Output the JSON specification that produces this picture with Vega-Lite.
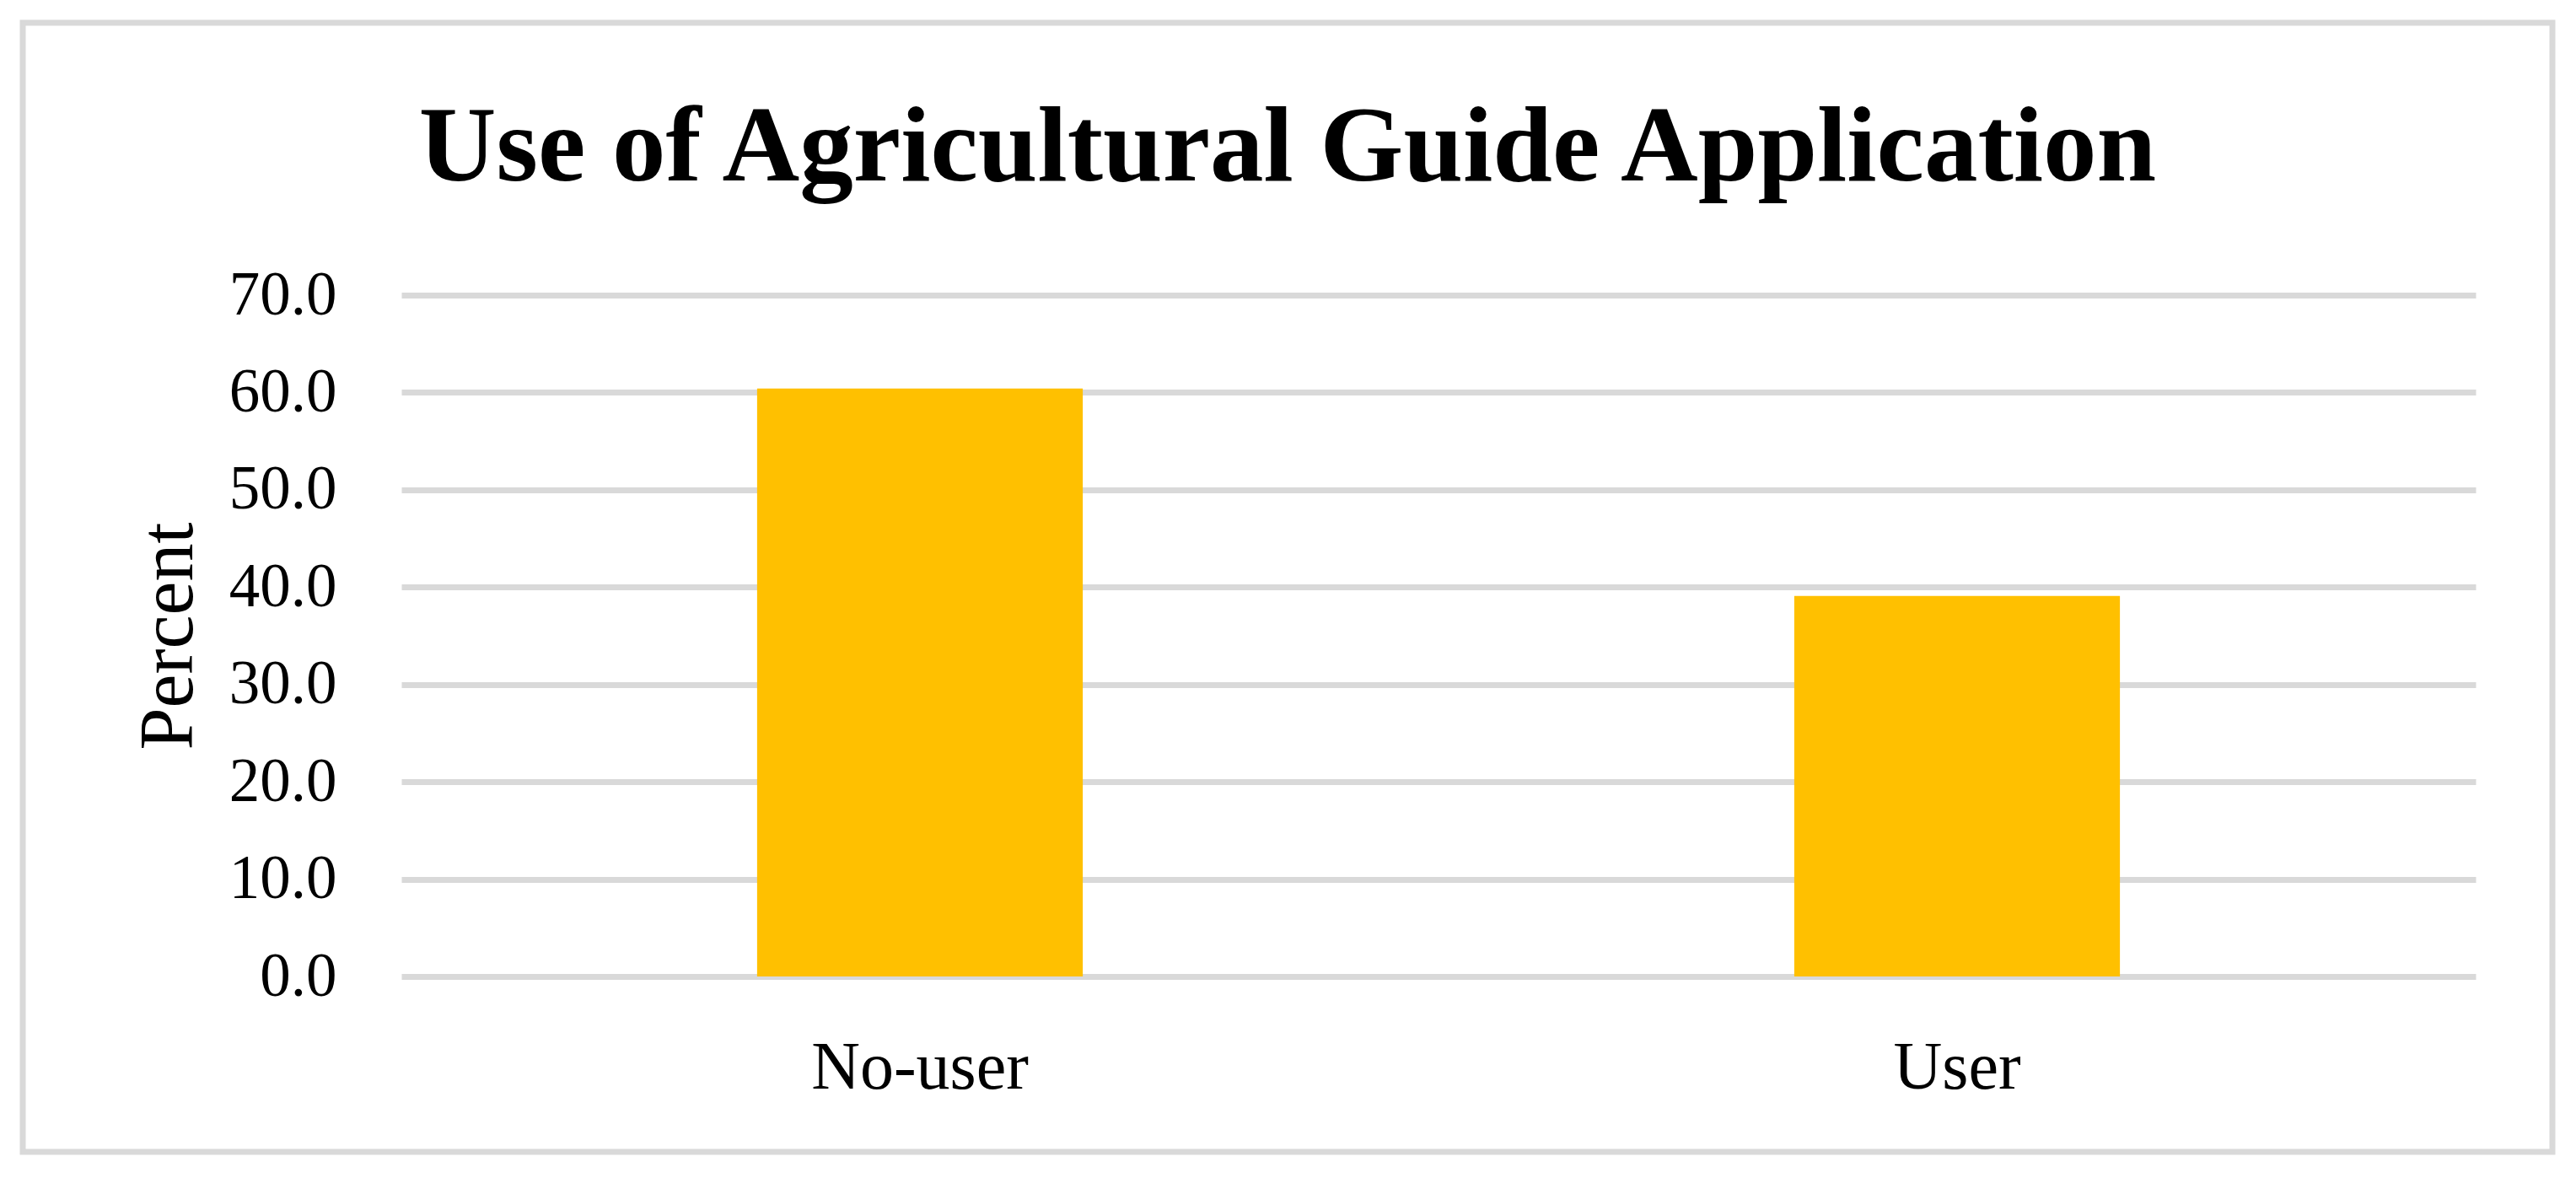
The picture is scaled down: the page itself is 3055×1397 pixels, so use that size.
{
 "$schema": "https://vega.github.io/schema/vega-lite/v6.json",
 "width": 3000,
 "height": 1339,
 "autosize": {"type": "none"},
 "padding": {"left": 27, "top": 27, "right": 28, "bottom": 31},
 "background": "white",
 "title": {"text": "Use of Agricultural Guide Application", "font": "Liberation Serif", "fontSize": 127, "fontWeight": "bold", "color": "black", "anchor": "middle", "offset": -214},
 "data": {"values": [{"group": "No-user", "percent": 60.4}, {"group": "User", "percent": 39.1}]},
 "mark": {"type": "bar", "color": "#FFC000", "width": {"band": 0.314}},
 "encoding": {
  "x": {"field": "group", "type": "nominal", "sort": null,
   "scale": {"range": [449, 2909], "paddingInner": 0, "paddingOuter": 0},
   "axis": {"title": null, "labelAngle": 0, "labelLimit": 0, "offset": -208, "ticks": false, "domain": false, "labelPadding": 69, "labelFont": "Liberation Serif", "labelFontSize": 80, "labelColor": "black", "grid": false}},
  "y": {"field": "percent", "type": "quantitative",
   "scale": {"domain": [0, 70], "range": [1131, 323], "nice": false, "zero": true},
   "axis": {"title": "Percent", "values": [0, 10, 20, 30, 40, 50, 60, 70], "format": ".1f", "offset": -449, "ticks": false, "domain": false, "labelPadding": 77, "labelFont": "Liberation Serif", "labelFontSize": 73, "labelColor": "black", "grid": true, "gridColor": "#D9D9D9", "gridWidth": 7, "titleFont": "Liberation Serif", "titleFontSize": 90, "titleFontWeight": "normal", "titleColor": "black", "titlePadding": 30}}
 },
 "config": {"view": {"stroke": "#D9D9D9", "strokeWidth": 7}}
}
